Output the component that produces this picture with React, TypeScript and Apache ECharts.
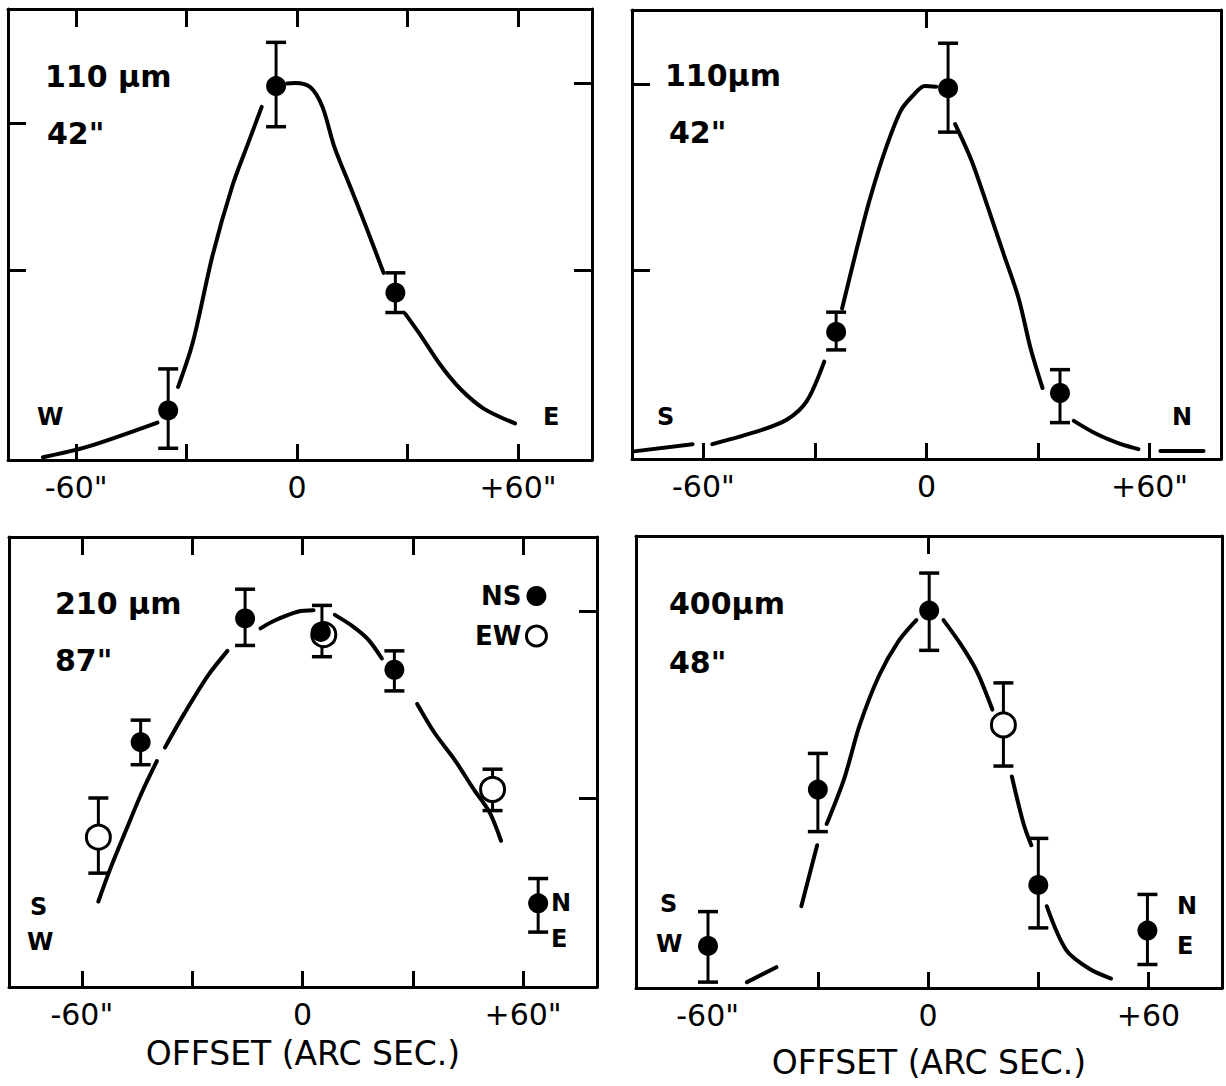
import React, { useEffect, useRef } from "react";
import * as echarts from "echarts";

const FONT = "'DejaVu Sans', 'Liberation Sans', sans-serif";

// ---- shared axis values ----
const xLabelValues = [-60, 0, 60];
const allXTicks = [-60, -30, 0, 30, 60];

// ---- Panel 1: 110 µm, W–E scan ----
const p1Filled = [[-35.0, 11.0], [-5.7, 82.9], [26.7, 37.1]];
const p1FilledErr = [[-35.0, 2.6, 20.2], [-5.7, 73.9, 92.6], [26.7, 32.7, 41.5]];
const p1Curve = [
  [[-69.0, 0.6], [-57.1, 2.9], [-37.9, 8.3]],
  [[-32.3, 16.2], [-28.3, 26.1], [-23.0, 45.2], [-17.6, 60.7], [-13.3, 70.2], [-9.6, 78.3]],
  [[-2.7, 83.5], [-0.5, 83.6], [3.7, 82.6], [6.9, 78.3], [10.1, 69.5], [14.4, 60.7], [18.7, 51.8], [23.5, 41.5]],
  [[29.4, 32.4], [33.6, 27.6], [39.0, 21.0], [44.3, 15.8], [50.7, 11.4], [59.2, 8.1]],
];
const p1LeftTicks = [42, 74.6];
const p1RightTicks = [42, 83.5];

// ---- Panel 2: 110 µm, S–N scan ----
const p2Filled = [[-24.3, 28.3], [5.8, 82.6], [35.9, 14.7]];
const p2FilledErr = [[-24.3, 24.3, 32.7], [5.8, 72.8, 92.6], [35.9, 8.1, 19.9]];
const p2Curve = [
  [[-78.7, 1.7], [-62.9, 3.3]],
  [[-57.6, 3.3], [-44.9, 6.3], [-37.5, 8.8], [-32.2, 12.9], [-27.5, 21.7]],
  [[-22.7, 33.5], [-19.0, 46.0], [-15.3, 57.7], [-11.1, 68.8], [-6.9, 77.6], [-3.7, 80.9], [-0.5, 83.1], [2.6, 82.9]],
  [[7.7, 74.6], [12.1, 66.5], [16.4, 56.3], [20.6, 46.0], [24.8, 35.7], [28.0, 24.6], [31.2, 15.8]],
  [[39.6, 8.5], [45.9, 5.5], [52.3, 3.3], [57.0, 2.2]],
  [[62.9, 1.8], [74.5, 1.8]],
];
const p2LeftTicks = [42, 83.5];
const p2TopTicks = [0];

// ---- Panel 3: 210 µm ----
const p3NS = [[-44.0, 54.4], [-15.6, 81.9], [5.0, 78.9], [25.0, 70.5], [64.1, 18.6]];
const p3NSErr = [[-44.0, 49.4, 59.3], [-15.6, 75.9, 88.4], [5.3, 73.4, 84.8], [25.0, 65.8, 74.7], [64.1, 12.2, 24.1]];
const p3EW = [[-55.5, 33.3], [5.8, 78.3], [51.7, 43.9]];
const p3EWErr = [[-55.5, 25.3, 42.0], [51.7, 39.2, 48.4]];
const p3Curve = [
  [[-55.5, 19.0], [-52.3, 26.2], [-48.1, 34.6], [-43.8, 43.0], [-39.6, 50.2]],
  [[-37.4, 53.2], [-32.1, 60.8], [-25.7, 69.2], [-20.4, 74.7]],
  [[-11.4, 79.7], [-7.7, 81.4], [-1.3, 83.4], [3.0, 83.7]],
  [[8.8, 82.7], [13.6, 80.2], [17.9, 77.2], [21.6, 73.0]],
  [[31.2, 62.9], [35.9, 56.5], [41.3, 50.6], [46.6, 43.9], [50.9, 38.8], [54.0, 32.5]],
];
const p3RightTicks = [42, 83.5];

// ---- Panel 4: 400 µm ----
const p4NS = [[-59.9, 9.3], [-30.0, 43.9], [0.3, 83.5], [30.0, 22.8], [59.7, 12.7]];
const p4NSErr = [[-59.9, 1.3, 16.9], [-30.0, 34.6, 51.9], [0.3, 74.7, 91.8], [30.0, 13.3, 33.1], [59.7, 5.2, 20.7]];
const p4EW = [[20.5, 58.2]];
const p4EWErr = [[20.5, 49.1, 67.5]];
const p4Curve = [
  [[-49.3, 1.3], [-41.3, 4.6]],
  [[-34.5, 18.1], [-30.2, 31.6]],
  [[-27.6, 36.3], [-22.8, 46.4], [-18.6, 58.2], [-13.3, 69.2], [-8.0, 76.8], [-3.2, 81.4]],
  [[4.2, 81.4], [9.0, 75.9], [13.3, 70.0], [17.5, 61.6]],
  [[22.8, 46.8], [26.0, 36.3], [28.1, 31.6]],
  [[32.3, 18.1], [37.6, 8.4], [44.0, 4.2], [49.8, 2.1]],
];
const p4BottomTicks = [-30, 0, 30, 60];
const p4TopTicks = [0];

const AXIS_NAME = "OFFSET (ARC SEC.)";

function errorBarRender(params: any, api: any) {
  const x = api.value(0);
  const lo = api.coord([x, api.value(1)]);
  const hi = api.coord([x, api.value(2)]);
  const hw = 10;
  const st = { stroke: "#000", lineWidth: 3 };
  return {
    type: "group",
    children: [
      { type: "line", shape: { x1: lo[0], y1: lo[1], x2: hi[0], y2: hi[1] }, style: st },
      { type: "line", shape: { x1: lo[0] - hw, y1: lo[1], x2: lo[0] + hw, y2: lo[1] }, style: { stroke: "#000", lineWidth: 3.5 } },
      { type: "line", shape: { x1: hi[0] - hw, y1: hi[1], x2: hi[0] + hw, y2: hi[1] }, style: { stroke: "#000", lineWidth: 3.5 } },
    ],
  };
}

function buildOption() {
  const panels = [
    {
      grid: { left: 8, top: 9, width: 584, height: 451 },
      xMin: -78.5, xMax: 80.1,
      bottomTicks: allXTicks, topTicks: allXTicks, leftTicks: p1LeftTicks, rightTicks: p1RightTicks,
      plus: '+60"', name: "", nameGap: 0,
      curve: p1Curve, filled: p1Filled, filledErr: p1FilledErr, open: [] as number[][], openErr: [] as number[][],
      filledName: "NS-110a", openName: "EW-110a",
    },
    {
      grid: { left: 632, top: 10, width: 589, height: 449 },
      xMin: -79.2, xMax: 79.2,
      bottomTicks: allXTicks, topTicks: p2TopTicks, leftTicks: p2LeftTicks, rightTicks: [] as number[],
      plus: '+60"', name: "", nameGap: 0,
      curve: p2Curve, filled: p2Filled, filledErr: p2FilledErr, open: [] as number[][], openErr: [] as number[][],
      filledName: "NS-110b", openName: "EW-110b",
    },
    {
      grid: { left: 9, top: 537, width: 588, height: 450 },
      xMin: -79.8, xMax: 80.1,
      bottomTicks: allXTicks, topTicks: allXTicks, leftTicks: [] as number[], rightTicks: p3RightTicks,
      plus: '+60"', name: AXIS_NAME, nameGap: 50,
      curve: p3Curve, filled: p3NS, filledErr: p3NSErr, open: p3EW, openErr: p3EWErr,
      filledName: "NS", openName: "EW",
    },
    {
      grid: { left: 636, top: 536, width: 586, height: 452 },
      xMin: -79.5, xMax: 80.0,
      bottomTicks: p4BottomTicks, topTicks: p4TopTicks, leftTicks: [] as number[], rightTicks: [] as number[],
      plus: "+60", name: AXIS_NAME, nameGap: 58,
      curve: p4Curve, filled: p4NS, filledErr: p4NSErr, open: p4EW, openErr: p4EWErr,
      filledName: "NS-400", openName: "EW-400",
    },
  ];

  const axisLine = { show: true, onZero: false, lineStyle: { color: "#000", width: 3 } };
  const tickStyle = { color: "#000", width: 3 };
  const grids: any[] = [];
  const xAxes: any[] = [];
  const yAxes: any[] = [];
  const series: any[] = [];

  panels.forEach((p, i) => {
    grids.push({ ...p.grid, containLabel: false });
    const plus = p.plus;
    xAxes.push({
      type: "value", gridIndex: i, position: "bottom", min: p.xMin, max: p.xMax,
      axisLine,
      axisTick: { show: p.bottomTicks.length > 0, inside: true, length: 16, lineStyle: tickStyle, customValues: p.bottomTicks },
      axisLabel: {
        show: true, customValues: xLabelValues,
        formatter: (v: number) => (v === 0 ? "0" : v < 0 ? '-60"' : plus),
        fontSize: 30, fontFamily: FONT, color: "#000", margin: 12,
      },
      splitLine: { show: false },
      name: p.name, nameLocation: "middle", nameGap: p.nameGap,
      nameTextStyle: { fontSize: 33, fontFamily: FONT, color: "#000" },
    });
    xAxes.push({
      type: "value", gridIndex: i, position: "top", min: p.xMin, max: p.xMax,
      axisLine,
      axisTick: { show: p.topTicks.length > 0, inside: true, length: 18, lineStyle: tickStyle, customValues: p.topTicks },
      axisLabel: { show: false },
      splitLine: { show: false },
    });
    yAxes.push({
      type: "value", gridIndex: i, position: "left", min: 0, max: 100,
      axisLine,
      axisTick: { show: p.leftTicks.length > 0, inside: true, length: 18, lineStyle: tickStyle, customValues: p.leftTicks },
      axisLabel: { show: false },
      splitLine: { show: false },
    });
    yAxes.push({
      type: "value", gridIndex: i, position: "right", min: 0, max: 100,
      axisLine,
      axisTick: { show: p.rightTicks.length > 0, inside: true, length: 18, lineStyle: tickStyle, customValues: p.rightTicks },
      axisLabel: { show: false },
      splitLine: { show: false },
    });

    const xi = i * 2;
    const yi = i * 2;
    p.curve.forEach((seg) => {
      series.push({
        type: "line", xAxisIndex: xi, yAxisIndex: yi, data: seg, smooth: 0.3,
        symbol: "none", showSymbol: false, silent: true,
        lineStyle: { color: "#000", width: 4, cap: "round" }, z: 2,
      });
    });
    series.push({
      type: "custom", xAxisIndex: xi, yAxisIndex: yi,
      data: [...p.filledErr, ...p.openErr],
      encode: { x: 0, y: [1, 2] },
      renderItem: errorBarRender, silent: true, z: 3,
    });
    if (p.open.length) {
      series.push({
        type: "scatter", name: p.openName, xAxisIndex: xi, yAxisIndex: yi, data: p.open,
        symbol: "circle", symbolSize: 24,
        itemStyle: { color: "#fff", borderColor: "#000", borderWidth: 3, opacity: 1 }, z: 4,
      });
    }
    series.push({
      type: "scatter", name: p.filledName, xAxisIndex: xi, yAxisIndex: yi, data: p.filled,
      symbol: "circle", symbolSize: 20,
      itemStyle: { color: "#000", opacity: 1 }, z: 5,
    });
  });

  const t = (text: string, x: number, y: number, size = 30) => ({
    type: "text", x, y, silent: true,
    style: { text, fontSize: size, fontWeight: "bold", fontFamily: FONT, fill: "#000", verticalAlign: "middle", align: "left" },
  });

  const graphic = [
    t("110 µm", 45, 76), t('42"', 47, 133), t("W", 37, 417, 24), t("E", 543, 417, 24),
    t("110µm", 665, 75), t('42"', 669, 132), t("S", 657, 417, 24), t("N", 1172, 417, 24),
    t("210 µm", 55, 603), t('87"', 55, 660), t("S", 30, 907, 24), t("W", 27, 942, 24),
    t("N", 551, 903, 24), t("E", 551, 939, 24),
    t("400µm", 669, 603), t('48"', 669, 662), t("S", 660, 904, 24), t("W", 656, 944, 24),
    t("N", 1177, 906, 24), t("E", 1177, 946, 24),
  ];

  return {
    animation: false,
    backgroundColor: "#fff",
    grid: grids,
    xAxis: xAxes,
    yAxis: yAxes,
    legend: {
      orient: "vertical", left: 470, top: 578, align: "right",
      itemWidth: 20, itemHeight: 20, itemGap: 14, selectedMode: false,
      textStyle: { fontSize: 26, fontWeight: "bold", fontFamily: FONT, color: "#000" },
      data: [
        { name: "NS", icon: "circle", itemStyle: { color: "#000" } },
        { name: "EW", icon: "circle", itemStyle: { color: "#fff", borderColor: "#000", borderWidth: 3 } },
      ],
    },
    graphic,
    series,
  };
}

export default function App() {
  const ref = useRef<HTMLDivElement>(null);
  useEffect(() => {
    if (!ref.current) return;
    const chart = echarts.init(ref.current, null, { renderer: "svg" });
    chart.setOption(buildOption() as any);
    return () => chart.dispose();
  }, []);
  return (
    <div
      ref={ref}
      style={{ position: "absolute", left: 0, top: 0, width: 1226, height: 1086, background: "#fff" }}
    />
  );
}
